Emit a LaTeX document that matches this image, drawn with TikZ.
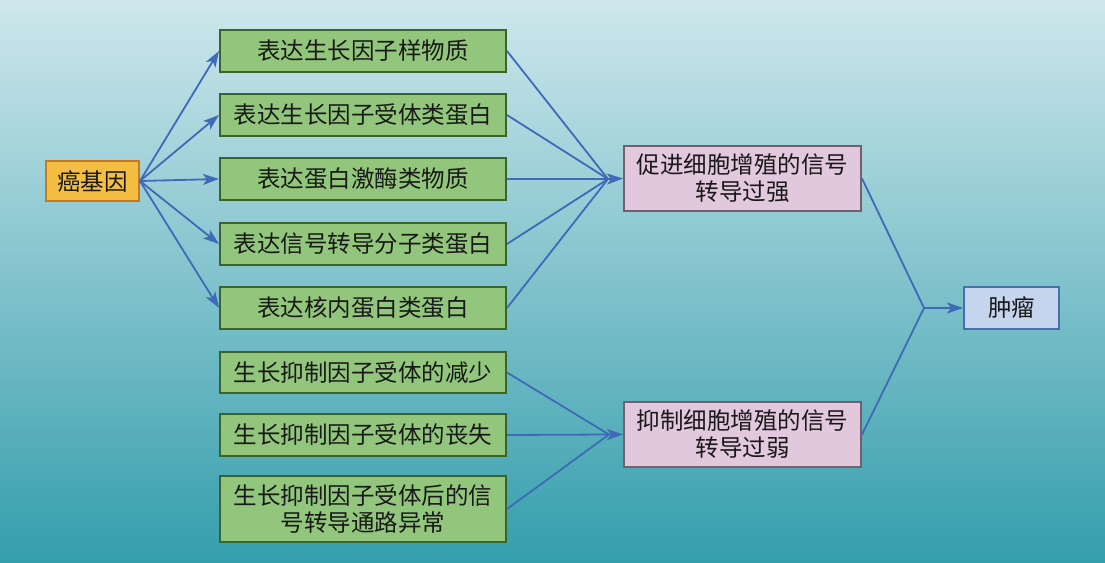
\documentclass[tikz,border=0pt]{standalone}
\usepackage{fontspec}
\setmainfont{Noto Sans CJK SC}
\usetikzlibrary{arrows.meta}
\definecolor{bgtop}{RGB}{206,231,236}
\definecolor{bgmid}{RGB}{146,203,208}
\definecolor{bgbot}{RGB}{52,158,172}
\definecolor{gfill}{RGB}{146,198,124}
\definecolor{gdraw}{RGB}{58,100,44}
\definecolor{ofill}{RGB}{244,190,66}
\definecolor{odraw}{RGB}{196,122,36}
\definecolor{pfill}{RGB}{226,200,221}
\definecolor{pdraw}{RGB}{120,92,112}
\definecolor{bfill}{RGB}{198,213,238}
\definecolor{bdraw}{RGB}{72,110,176}
\definecolor{arr}{RGB}{62,106,184}
\tikzset{
  base/.style={draw, line width=2pt, inner sep=0pt, align=center,
    font=\fontsize{23.5}{27}\selectfont, text=black!90},
  gbox/.style={base, fill=gfill, draw=gdraw, minimum width=286pt},
  obox/.style={base, fill=ofill, draw=odraw, minimum width=93pt, minimum height=40pt},
  pbox/.style={base, fill=pfill, draw=pdraw, minimum width=237pt, minimum height=65pt},
  bbox/.style={base, fill=bfill, draw=bdraw, minimum width=95pt, minimum height=42pt},
  conn/.style={draw=arr, line width=1.8pt},
  arrow/.style={conn, -{Stealth[length=16pt,width=11pt,inset=4pt]}},
}
\begin{document}
\begin{tikzpicture}[x=1pt,y=-1pt]
\shade[top color=bgtop, middle color=bgmid, bottom color=bgbot] (0,0) rectangle (1105,562);
\useasboundingbox (0,0) rectangle (1105,562);

\node[obox] (onc) at (92.5,181) {癌基因};
\node[gbox, minimum height=42pt] (g1) at (363,51) {表达生长因子样物质};
\node[gbox, minimum height=42pt] (g2) at (363,115) {表达生长因子受体类蛋白};
\node[gbox, minimum height=42pt] (g3) at (363,179) {表达蛋白激酶类物质};
\node[gbox, minimum height=42pt] (g4) at (363,244) {表达信号转导分子类蛋白};
\node[gbox, minimum height=42pt] (g5) at (363,308) {表达核内蛋白类蛋白};
\node[gbox, minimum height=41pt] (g6) at (363,372.5) {生长抑制因子受体的减少};
\node[gbox, minimum height=42pt] (g7) at (363,435) {生长抑制因子受体的丧失};
\node[gbox, minimum height=66pt] (g8) at (363,509) {生长抑制因子受体后的信\\号转导通路异常};
\node[pbox] (p1) at (742.5,178.5) {促进细胞增殖的信号\\转导过强};
\node[pbox] (p2) at (742.5,434.5) {抑制细胞增殖的信号\\转导过弱};
\node[bbox] (t) at (1011.5,308) {肿瘤};

\coordinate (m1) at (608,179);
\coordinate (m2) at (609,434.5);
\coordinate (j) at (924,308);

\foreach \g in {g1,g2,g3,g4,g5} {
  \draw[arrow] (onc.east) -- (\g.west);
  \draw[conn] (\g.east) -- (m1);
}
\draw[arrow] (m1) -- (p1.west);
\foreach \g in {g6,g7,g8} {
  \draw[conn] (\g.east) -- (m2);
}
\draw[arrow] (m2) -- (p2.west);
\draw[conn] (p1.east) -- (j);
\draw[conn] (p2.east) -- (j);
\draw[arrow] (j) -- (t.west);
\end{tikzpicture}
\end{document}
